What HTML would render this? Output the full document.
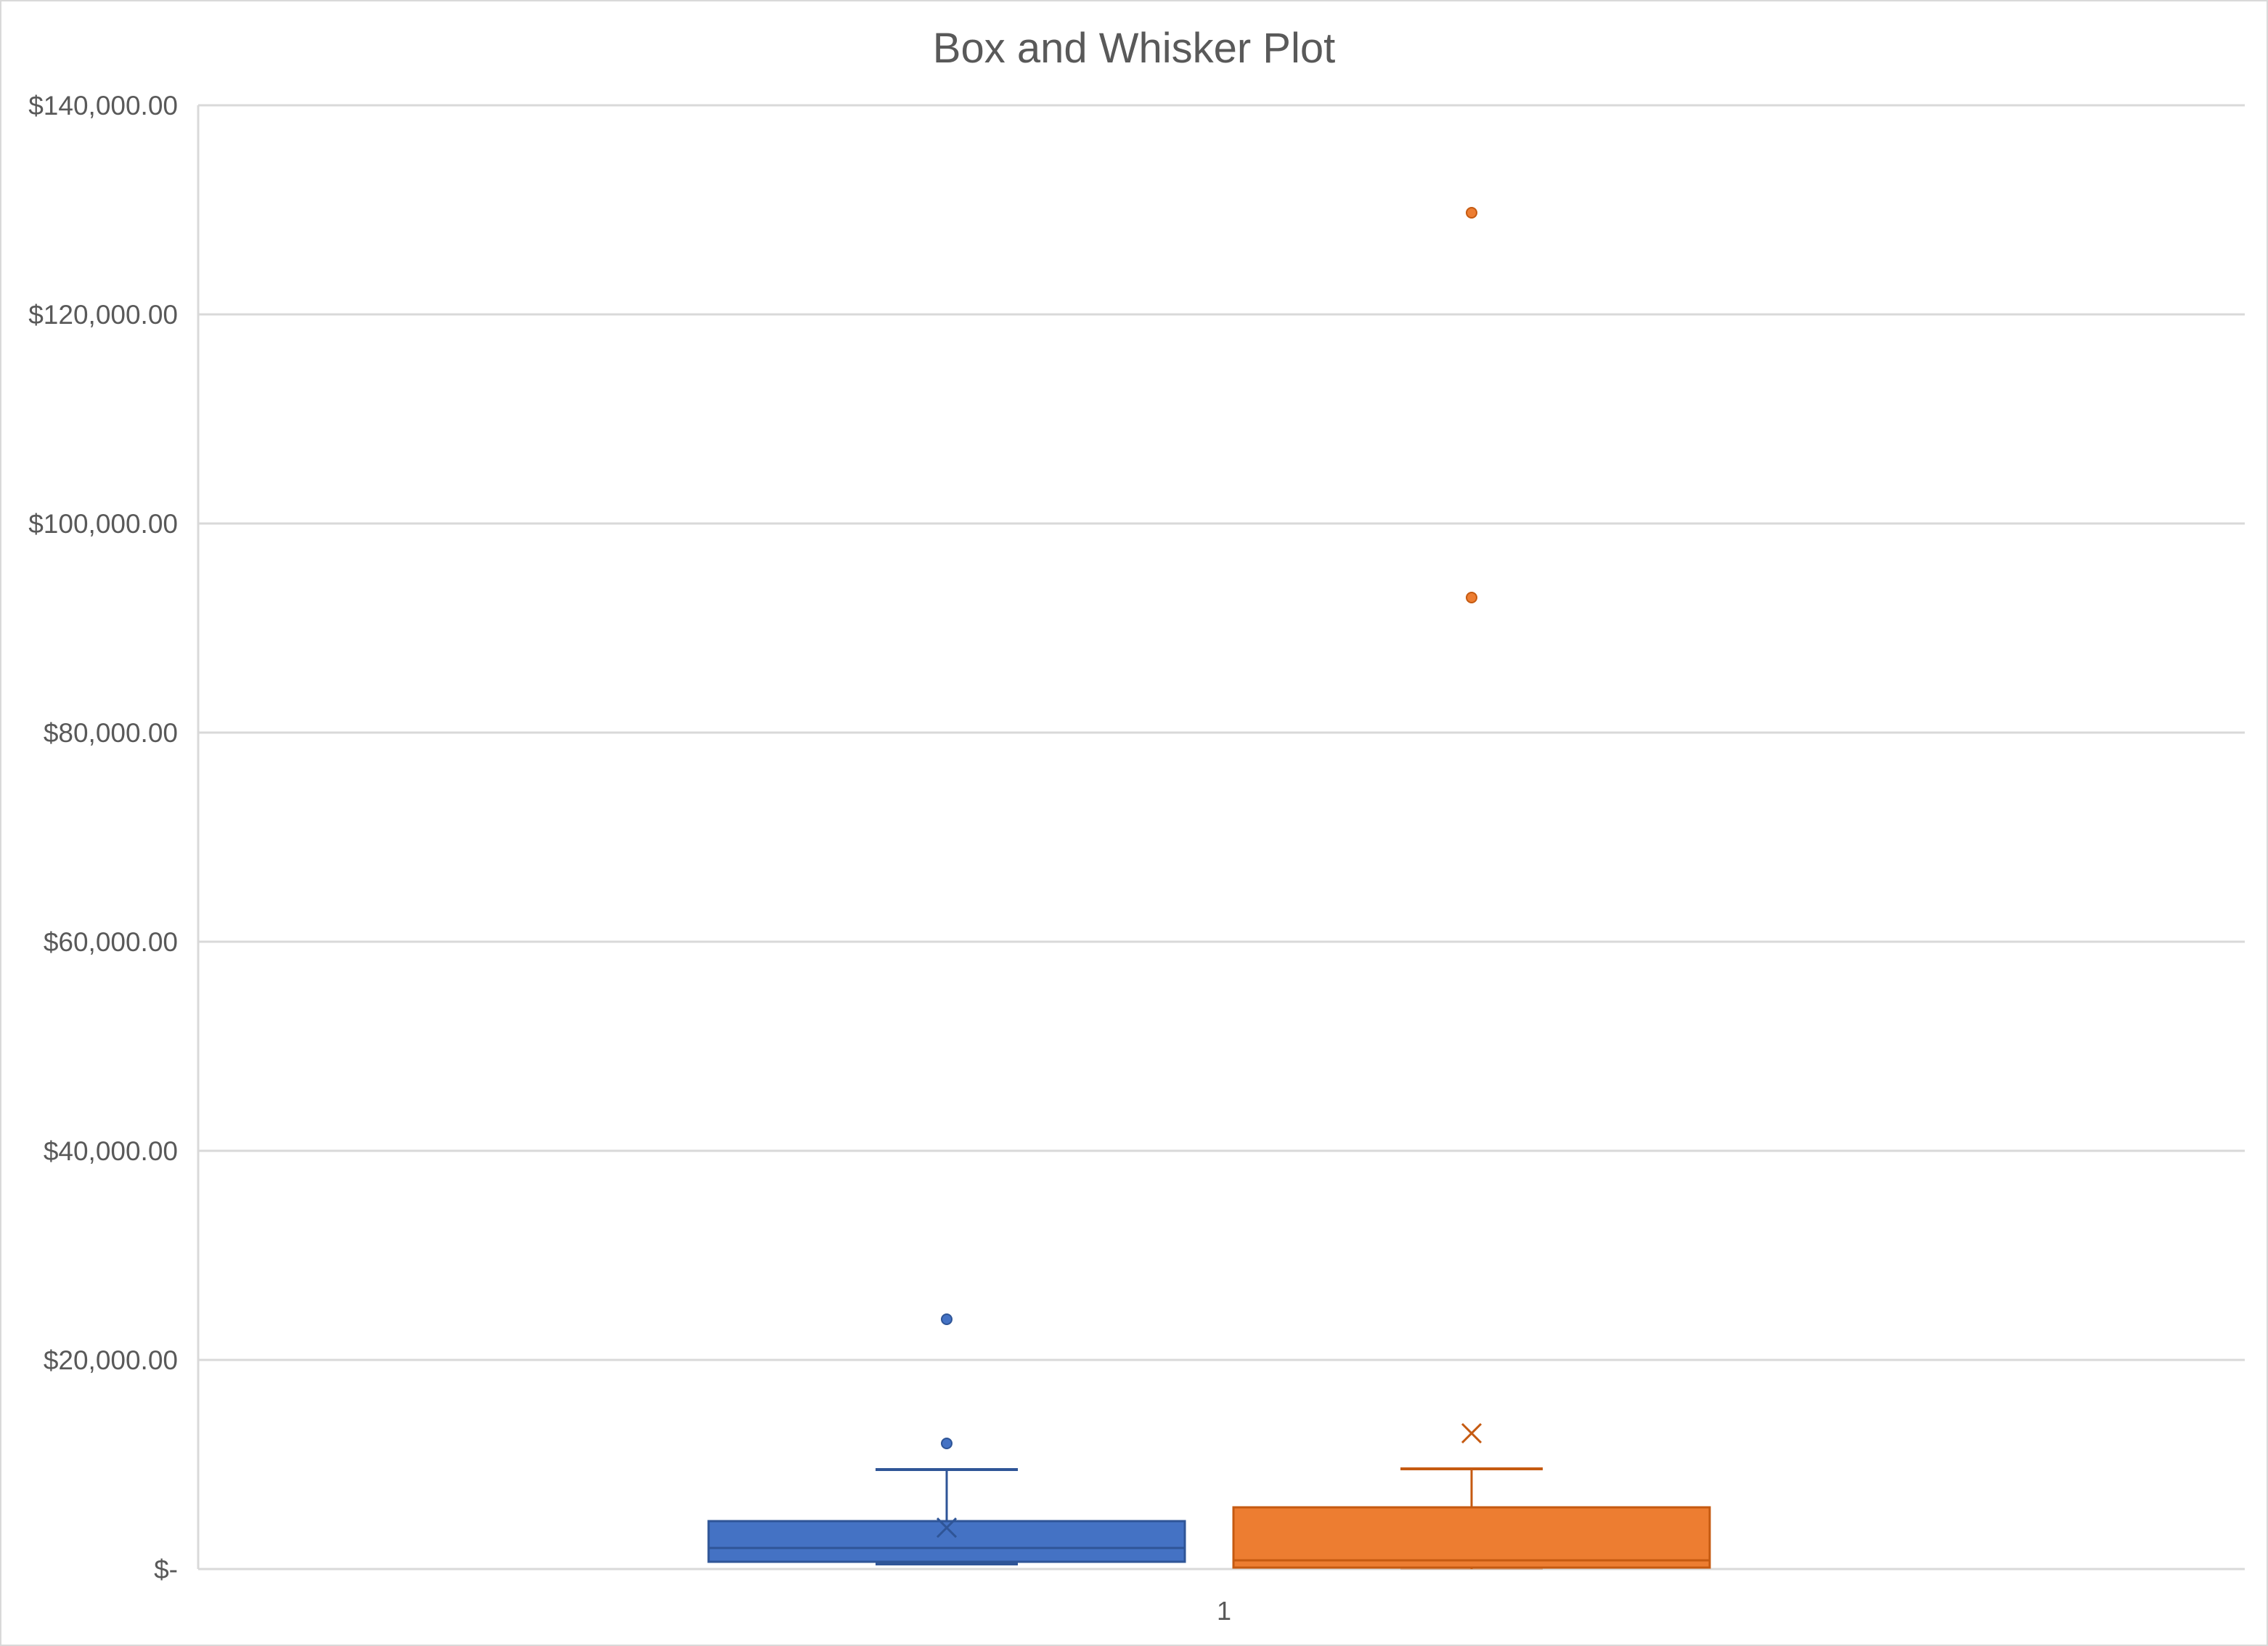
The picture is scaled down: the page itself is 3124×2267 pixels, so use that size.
<!DOCTYPE html>
<html><head><meta charset="utf-8"><style>
html,body{margin:0;padding:0;background:#fff}
svg{display:block}
text{font-family:"Liberation Sans",sans-serif}
</style></head><body>
<svg id="chart" width="3124" height="2267" xmlns="http://www.w3.org/2000/svg">
<rect x="1" y="1" width="3122" height="2265" fill="#fff" stroke="#d9d9d9" stroke-width="2"/>
<text x="1562" y="86" text-anchor="middle" font-size="58" fill="#595959">Box and Whisker Plot</text>
<g id="grid"></g><g id="marks"></g>
<text x="1686" y="2231" text-anchor="middle" font-size="36" fill="#595959">1</text>
</svg>
<script>
const tickValues=[0,20000,40000,60000,80000,100000,120000,140000];
const tickLabels=["$-","$20,000.00","$40,000.00","$60,000.00","$80,000.00","$100,000.00","$120,000.00","$140,000.00"];
const seriesNames=["series-1","series-2"];
const q1=[694,139];
const median=[2014,833];
const q3=[4583,5903];
const whiskerLow=[486,0];
const whiskerHigh=[9514,9583];
const means=[3958,12986];
const outliers=[[12014,23889],[92917,129722]];
const colors=["#4472c4","#ed7d31"];
const strokes=["#2f5597","#c55a11"];

const L=273,R=3092,T=145,B=2161,VMAX=140000;
const y=v=>B-(v/VMAX)*(B-T);
const centers=[1304,2027],halfW=328,capHalf=98;
const NS="http://www.w3.org/2000/svg";
function mk(tag,attrs,parent){const e=document.createElementNS(NS,tag);for(const k in attrs)e.setAttribute(k,attrs[k]);parent.appendChild(e);return e;}
const grid=document.getElementById('grid'),marks=document.getElementById('marks');
tickValues.forEach((v,i)=>{
  const l=mk('line',{x1:L,x2:R,y1:y(v),y2:y(v),stroke:'#d9d9d9','stroke-width':3},grid);
  
  
  const t=mk('text',{x:245,y:y(v)+13,'text-anchor':'end','font-size':37,fill:'#595959'},grid);
  t.textContent=tickLabels[i];
  
  
});
const ax=mk('line',{x1:L,x2:L,y1:T,y2:B,stroke:'#d9d9d9','stroke-width':3},grid);


seriesNames.forEach((s,i)=>{
  const cx=centers[i],c=colors[i],st=strokes[i];
  const g=mk('g',{},marks);
  
  
  mk('line',{x1:cx,x2:cx,y1:y(whiskerHigh[i]),y2:y(q3[i]),stroke:st,'stroke-width':3},g);
  mk('line',{x1:cx,x2:cx,y1:y(q1[i]),y2:y(whiskerLow[i]),stroke:st,'stroke-width':3},g);
  const capH=mk('line',{x1:cx-capHalf,x2:cx+capHalf,y1:y(whiskerHigh[i]),y2:y(whiskerHigh[i]),stroke:st,'stroke-width':4},g);
  
  
  const capL=mk('line',{x1:cx-capHalf,x2:cx+capHalf,y1:y(whiskerLow[i]),y2:y(whiskerLow[i]),stroke:st,'stroke-width':whiskerLow[i]>0?4:2,'stroke-opacity':whiskerLow[i]>0?1:0.3},g);
  
  
  const box=mk('rect',{x:cx-halfW,y:y(q3[i]),width:2*halfW,height:y(q1[i])-y(q3[i]),fill:c,stroke:st,'stroke-width':3},g);
  
  
  const md=mk('line',{x1:cx-halfW,x2:cx+halfW,y1:y(median[i]),y2:y(median[i]),stroke:st,'stroke-width':3},g);
  
  
  const my=y(means[i]);
  const mm=mk('path',{d:`M${cx-13} ${my-13}L${cx+13} ${my+13}M${cx+13} ${my-13}L${cx-13} ${my+13}`,stroke:st,'stroke-width':3,fill:'none'},g);
  
  
  outliers[i].forEach(v=>{
    const o=mk('circle',{cx:cx,cy:y(v),r:7,fill:c,stroke:st,'stroke-width':2},g);
    
    
  });
});
</script>
</body></html>
